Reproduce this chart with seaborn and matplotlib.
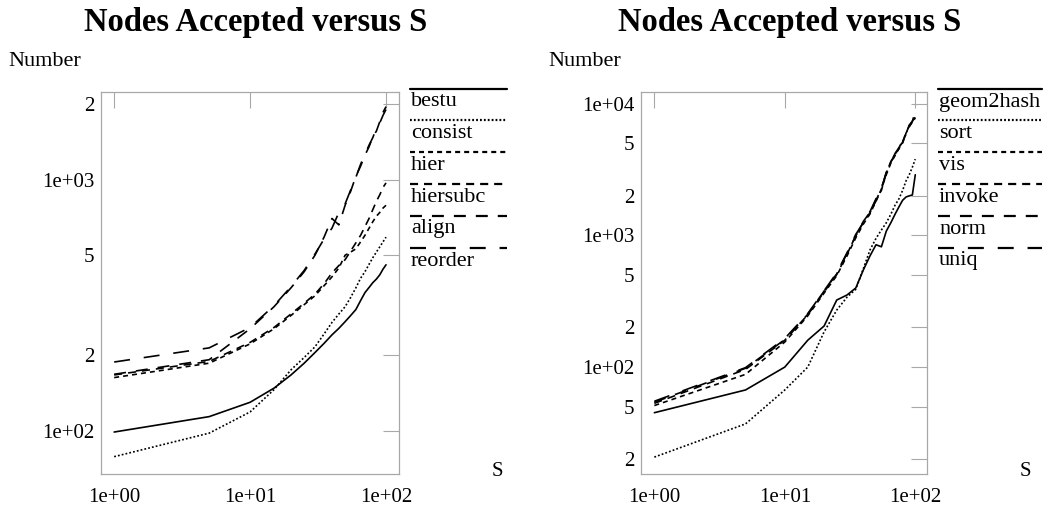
import numpy as np
import pandas as pd
import matplotlib
matplotlib.use("Agg")
import matplotlib.pyplot as plt
from matplotlib.lines import Line2D
import seaborn as sns

# ---------------- data ----------------
S_VALUES = [1, 5, 10, 15, 20, 25, 30, 35, 40, 45, 50, 55, 60, 65, 70, 75, 80, 85, 90, 95, 100]

LEFT_SERIES = ["bestu", "consist", "hier", "hiersubc", "align", "reorder"]
bestu    = [99, 114, 130, 148, 167, 186, 205, 223, 241, 256, 272, 288, 304, 330, 355, 372, 389, 402, 418, 440, 458]
consist  = [79, 98, 119, 146, 175, 196, 216, 243, 270, 292, 312, 340, 371, 405, 430, 460, 489, 515, 540, 565, 590]
hier     = [163, 186, 222, 255, 288, 318, 345, 378, 410, 445, 500, 515, 530, 565, 600, 640, 680, 715, 740, 770, 790]
hiersubc = [167, 189, 225, 258, 292, 322, 350, 385, 425, 455, 480, 520, 560, 600, 650, 700, 760, 820, 870, 930, 970]
align    = [168, 192, 255, 312, 371, 430, 500, 590, 700, 660, 790, 900, 1030, 1130, 1250, 1350, 1480, 1560, 1700, 1850, 1950]
reorder  = [188, 214, 258, 315, 375, 435, 505, 580, 640, 740, 800, 910, 1020, 1150, 1260, 1370, 1470, 1600, 1680, 1800, 1900]

RIGHT_SERIES = ["geom2hash", "sort", "vis", "invoke", "norm", "uniq"]
geom2hash = [45, 67, 100, 160, 205, 323, 353, 399, 547, 700, 850, 820, 1080, 1250, 1450, 1650, 1850, 1960, 2000, 2030, 2890]
sort_     = [20.7, 37, 67, 100, 185, 271, 340, 390, 560, 777, 950, 1100, 1250, 1450, 1700, 1900, 2200, 2600, 2900, 3300, 3800]
vis       = [51, 88, 155, 245, 365, 495, 700, 960, 1220, 1460, 1820, 2250, 2900, 3550, 4050, 4600, 5050, 6000, 6700, 7300, 7800]
invoke    = [53, 96, 160, 250, 372, 505, 720, 1000, 1260, 1490, 1870, 2200, 3050, 3600, 4150, 4550, 5150, 5900, 6850, 7250, 7700]
norm      = [54, 98, 162, 252, 378, 510, 730, 990, 1280, 1500, 1830, 2300, 2950, 3650, 4100, 4700, 5100, 6100, 6750, 7400, 7900]
uniq      = [55, 99, 165, 255, 380, 520, 740, 1020, 1250, 1520, 1900, 2280, 3000, 3600, 4200, 4650, 5200, 5950, 6900, 7350, 8800]

TITLE = "Nodes Accepted versus S"
Y_LABEL = "Number"
X_LABEL = "S"

X_TICKS = [1, 10, 100]
X_TICK_LABELS = ["1e+00", "1e+01", "1e+02"]
LEFT_Y_TICKS = [100, 200, 500, 1000, 2000]
LEFT_Y_TICK_LABELS = ["1e+02", "2", "5", "1e+03", "2"]
RIGHT_Y_TICKS = [20, 50, 100, 200, 500, 1000, 2000, 5000, 10000]
RIGHT_Y_TICK_LABELS = ["2", "5", "1e+02", "2", "5", "1e+03", "2", "5", "1e+04"]

# ---------------- style ----------------
sns.set_style("white")
plt.rcParams["font.family"] = ["Liberation Serif", "DejaVu Serif"]
plt.rcParams["lines.scale_dashes"] = False
plt.rcParams["text.color"] = "black"
plt.rcParams["axes.labelcolor"] = "black"
plt.rcParams["xtick.labelcolor"] = "black"
plt.rcParams["ytick.labelcolor"] = "black"

W, H = 1045, 514
fig = plt.figure(figsize=(W / 100, H / 100), dpi=100)

def fx(px):
    return px / W

def fy(py):
    return 1 - py / H

DASH_STYLES = ["", (1.3, 1.5), (3.6, 2.9), (5.8, 4.3), (8.6, 7.2), (11.5, 10.0)]
FRAME_COLOR = "#a8a8a8"

def make_df(names, arrays):
    rows = []
    for name, arr in zip(names, arrays):
        for s, v in zip(S_VALUES, arr):
            rows.append({"S": s, "value": v, "series": name})
    return pd.DataFrame(rows)

def draw_panel(rect, names, arrays, ylim, yticks, yticklabels, xlim):
    ax = fig.add_axes(rect)
    df = make_df(names, arrays)
    dashes = {n: d for n, d in zip(names, DASH_STYLES)}
    palette = {n: "black" for n in names}
    sns.lineplot(data=df, x="S", y="value", hue="series", style="series",
                 dashes=dashes, palette=palette, linewidth=1.2, legend=False,
                 ax=ax, sort=False)
    ax.set_xscale("log")
    ax.set_yscale("log")
    ax.set_xlim(*xlim)
    ax.set_ylim(*ylim)
    ax.set_xticks(X_TICKS)
    ax.set_xticklabels(X_TICK_LABELS)
    ax.set_yticks(yticks)
    ax.set_yticklabels(yticklabels)
    ax.minorticks_off()
    ax.set_xlabel("")
    ax.set_ylabel("")
    ax.tick_params(which="both", direction="in", length=11.5, width=0.8,
                   color=FRAME_COLOR, top=True, right=True,
                   labelsize=15, labelcolor="black")
    ax.tick_params(axis="x", pad=10)
    ax.tick_params(axis="y", pad=5)
    for sp in ax.spines.values():
        sp.set_color(FRAME_COLOR)
        sp.set_linewidth(0.9)
    return ax

# left panel
draw_panel([fx(101), fy(474), fx(399) - fx(101), fy(92) - fy(474)],
           LEFT_SERIES, [bestu, consist, hier, hiersubc, align, reorder],
           (67.4, 2230), LEFT_Y_TICKS, LEFT_Y_TICK_LABELS, (0.80, 124.6))
# right panel
draw_panel([fx(641), fy(474), fx(927) - fx(641), fy(92) - fy(474)],
           RIGHT_SERIES, [geom2hash, sort_, vis, invoke, norm, uniq],
           (15.4, 12300), RIGHT_Y_TICKS, RIGHT_Y_TICK_LABELS, (0.79, 123.0))

# titles and axis labels
for cx, nx, sx in [(256, 8, 497), (790, 548, 1025)]:
    fig.text(fx(cx), fy(22), TITLE, ha="center", va="center",
             fontsize=23.5, fontweight="bold", color="black")
    fig.text(fx(nx), fy(61), Y_LABEL, ha="left", va="center", fontsize=16, color="black")
    fig.text(fx(sx), fy(471), X_LABEL, ha="center", va="center", fontsize=15, color="black")

# legends (line above label, gnuplot style)
LEG_Y = [89, 120, 152, 184, 216, 248]
for x0, x1, names in [(410, 507, LEFT_SERIES), (938, 1042, RIGHT_SERIES)]:
    for name, ly, d in zip(names, LEG_Y, DASH_STYLES):
        ln = Line2D([fx(x0), fx(x1)], [fy(ly), fy(ly)], transform=fig.transFigure,
                    color="black", linewidth=1.6)
        if d != "":
            ln.set_dashes(d)
        fig.add_artist(ln)
        fig.text(fx(x0 + 1), fy(ly + 13), name, ha="left", va="center",
                 fontsize=16, color="black")

fig.savefig("out.png", dpi=100)
